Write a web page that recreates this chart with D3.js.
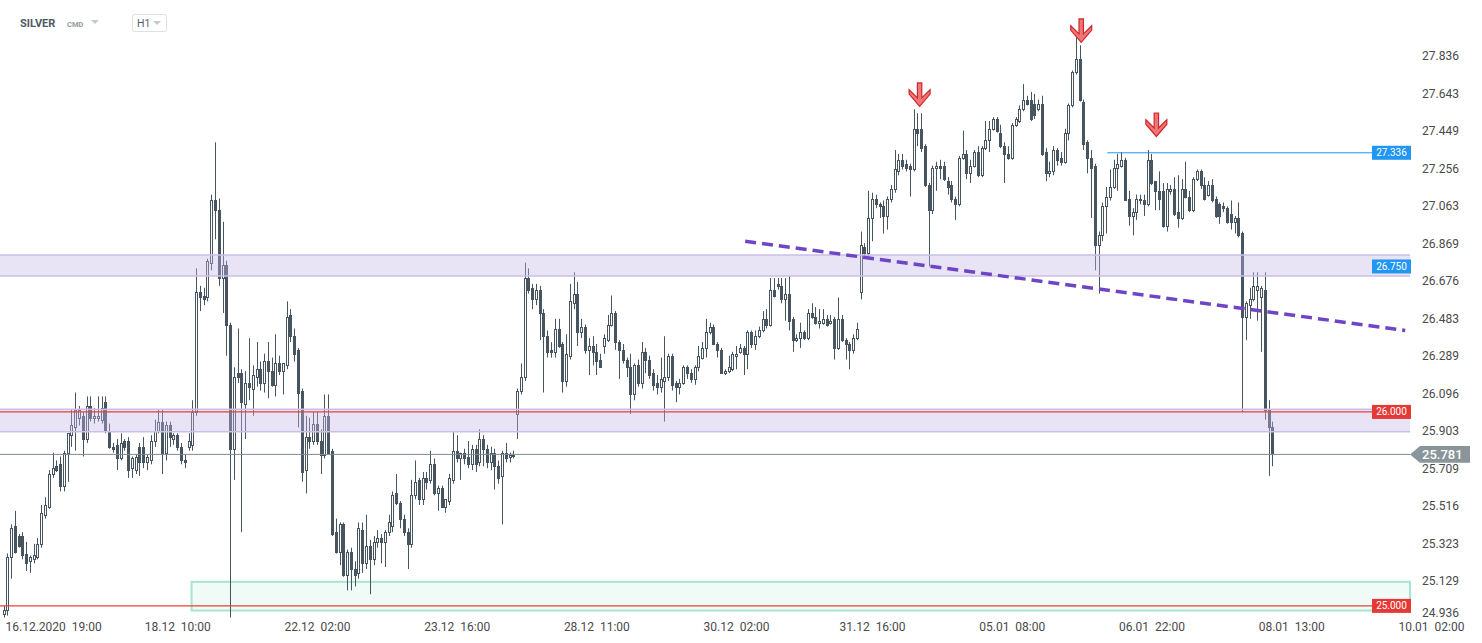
<!DOCTYPE html>
<html><head><meta charset="utf-8">
<script src="https://cdn.jsdelivr.net/npm/d3@7"></script>
<style>
body{margin:0;background:#fff;overflow:hidden}
svg{display:block;font-family:Roboto,'Open Sans',Arial,sans-serif}
</style>
</head><body>
<svg id="chart" width="1482" height="643"></svg>
<script>
// ---------- DATA (SILVER, H1) ----------
const opens = [
24.96,24.98,25.25,25.41,25.36,25.36,25.27,25.23,25.24,25.25,
25.32,25.47,25.51,25.68,25.72,25.73,25.62,25.79,25.88,25.92,
25.97,25.98,25.86,26.03,25.97,25.97,25.96,26.05,25.90,25.82,
25.83,25.76,25.85,25.85,25.71,25.70,25.82,25.82,25.74,25.75,
25.85,25.90,25.95,25.79,25.93,25.86,25.88,25.82,25.75,25.82,
25.83,26.00,26.62,26.60,26.59,26.77,27.09,27.04,26.69,26.76,
26.45,25.81,26.20,26.20,26.04,26.15,26.12,26.18,26.22,26.15,
26.26,26.21,26.14,26.25,26.21,26.24,26.50,26.39,26.32,26.11,
25.70,25.87,25.85,25.94,25.85,25.78,25.98,25.80,25.38,25.28,
25.42,25.16,25.28,25.19,25.17,25.39,25.22,25.31,25.24,25.33,
25.35,25.33,25.38,25.41,25.58,25.53,25.45,25.38,25.32,25.57,
25.65,25.55,25.66,25.65,25.73,25.58,25.61,25.51,25.54,25.65,
25.80,25.76,25.79,25.77,25.73,25.81,25.74,25.86,25.81,25.74,
25.79,25.72,25.67,25.79,25.77,25.78,25.99,26.11,26.18,26.69,
26.64,26.58,26.63,26.51,26.39,26.32,26.31,26.43,26.35,26.16,
26.29,26.56,26.61,26.41,26.44,26.32,26.34,26.31,26.27,26.34,
26.37,26.45,26.51,26.36,26.32,26.27,26.23,26.09,26.24,26.15,
26.31,26.27,26.20,26.15,26.13,26.16,26.18,26.29,26.15,26.13,
26.15,26.23,26.20,26.17,26.23,26.28,26.33,26.41,26.44,26.35,
26.32,26.20,26.21,26.22,26.29,26.31,26.33,26.30,26.41,26.35,
26.39,26.42,26.48,26.45,26.63,26.66,26.65,26.58,26.61,26.48,
26.37,26.38,26.41,26.38,26.51,26.49,26.46,26.46,26.48,26.46,
26.48,26.33,26.48,26.37,26.35,26.32,26.38,26.62,26.85,26.82,
27.00,27.10,27.07,27.06,27.01,27.10,27.15,27.24,27.30,27.28,
27.27,27.25,27.46,27.46,27.37,27.17,27.04,27.26,27.27,27.27,
27.19,27.17,27.10,27.07,27.31,27.33,27.23,27.27,27.34,27.22,
27.36,27.40,27.46,27.51,27.44,27.37,27.33,27.31,27.48,27.50,
27.56,27.61,27.61,27.59,27.56,27.59,27.34,27.23,27.24,27.35,
27.31,27.29,27.44,27.58,27.75,27.82,27.60,27.39,27.31,27.27,
26.86,26.91,27.06,27.11,27.16,27.26,27.27,27.30,27.10,27.01,
27.03,27.10,27.09,27.07,27.30,27.19,27.14,27.14,26.96,27.14,
27.15,27.03,27.00,27.15,27.11,27.04,27.20,27.24,27.17,27.12,
27.17,27.10,27.07,27.06,27.05,27.02,26.98,27.00,26.92,26.49,
26.55,26.58,26.63,26.59,26.63,26.01,25.92];
const highs = [
25.00,25.27,25.42,25.49,25.37,25.38,25.33,25.26,25.32,25.35,
25.52,25.56,25.70,25.79,25.75,25.77,25.80,25.89,26.01,26.10,
26.03,26.00,26.08,26.08,26.02,26.08,26.08,26.08,25.94,25.84,
25.86,25.89,25.86,25.87,25.77,25.78,25.84,25.87,25.78,25.88,
25.96,26.01,26.01,25.95,25.95,25.89,25.89,25.84,25.78,25.89,
26.06,26.74,26.65,26.64,26.79,27.12,27.39,27.10,26.98,26.78,
26.46,26.23,26.43,26.22,26.21,26.38,26.24,26.36,26.26,26.30,
26.36,26.28,26.40,26.29,26.24,26.57,26.53,26.43,26.33,26.12,
25.98,25.97,26.00,26.00,25.91,26.09,26.09,25.81,25.45,25.43,
25.43,25.29,25.30,25.23,25.43,25.43,25.47,25.34,25.36,25.39,
25.37,25.39,25.47,25.59,25.68,25.54,25.47,25.40,25.65,25.75,
25.66,25.69,25.69,25.80,25.76,25.62,25.62,25.55,25.68,25.90,
25.88,25.79,25.81,25.85,25.83,25.83,25.91,25.88,25.83,25.82,
25.81,25.75,25.80,25.84,25.79,25.80,26.12,26.25,26.77,26.74,
26.66,26.66,26.65,26.53,26.42,26.36,26.48,26.48,26.36,26.40,
26.66,26.72,26.67,26.48,26.45,26.38,26.39,26.35,26.30,26.40,
26.50,26.60,26.52,26.37,26.35,26.28,26.30,26.25,26.27,26.36,
26.33,26.29,26.22,26.19,26.28,26.39,26.30,26.30,26.16,26.17,
26.24,26.24,26.22,26.24,26.34,26.36,26.48,26.46,26.45,26.36,
26.33,26.22,26.29,26.31,26.34,26.35,26.34,26.42,26.42,26.42,
26.44,26.52,26.53,26.69,26.69,26.69,26.69,26.69,26.70,26.49,
26.40,26.46,26.42,26.53,26.56,26.54,26.53,26.53,26.50,26.50,
26.49,26.59,26.50,26.38,26.36,26.40,26.46,26.93,26.87,27.14,
27.13,27.12,27.08,27.09,27.11,27.17,27.35,27.33,27.33,27.30,
27.28,27.56,27.54,27.54,27.38,27.18,27.27,27.29,27.30,27.29,
27.21,27.19,27.11,27.32,27.45,27.35,27.30,27.35,27.37,27.37,
27.50,27.50,27.52,27.52,27.48,27.39,27.37,27.49,27.52,27.58,
27.69,27.63,27.65,27.64,27.61,27.63,27.36,27.29,27.37,27.36,
27.34,27.46,27.59,27.76,27.93,27.89,27.61,27.40,27.35,27.28,
26.93,27.08,27.16,27.25,27.30,27.33,27.34,27.31,27.14,27.05,
27.12,27.12,27.12,27.35,27.33,27.19,27.24,27.18,27.18,27.17,
27.21,27.22,27.20,27.29,27.14,27.21,27.25,27.25,27.21,27.19,
27.20,27.11,27.08,27.08,27.06,27.09,27.01,27.08,26.93,26.57,
26.64,26.72,26.72,26.65,26.72,26.06,25.95];
const lows = [
24.94,24.95,25.14,25.27,25.30,25.24,25.18,25.17,25.22,25.24,
25.30,25.45,25.50,25.66,25.69,25.59,25.59,25.64,25.82,25.80,
25.93,25.77,25.84,25.95,25.94,25.95,25.94,25.89,25.81,25.79,
25.70,25.75,25.80,25.66,25.66,25.68,25.67,25.71,25.70,25.73,
25.82,25.89,25.68,25.75,25.82,25.83,25.80,25.73,25.71,25.80,
25.80,25.98,26.52,26.55,26.57,26.73,26.89,26.65,26.51,26.29,
24.94,25.65,26.15,25.38,25.86,26.06,25.98,26.13,26.11,26.10,
26.07,26.13,26.08,26.19,26.09,26.22,26.36,26.26,25.92,25.64,
25.58,25.81,25.83,25.83,25.68,25.76,25.78,25.36,25.27,25.21,
25.15,25.08,25.08,25.10,25.14,25.17,25.19,25.06,25.21,25.30,
25.22,25.20,25.36,25.38,25.52,25.40,25.36,25.19,25.30,25.55,
25.52,25.52,25.60,25.63,25.57,25.49,25.51,25.48,25.52,25.63,
25.74,25.65,25.73,25.71,25.70,25.69,25.72,25.72,25.71,25.70,
25.60,25.63,25.42,25.74,25.74,25.76,25.86,26.09,26.16,26.61,
26.53,26.55,26.37,26.10,26.28,26.28,26.28,26.33,26.10,26.13,
26.27,26.53,26.34,26.38,26.30,26.19,26.24,26.19,26.23,26.30,
26.36,26.44,26.32,26.17,26.25,26.18,25.99,26.06,26.13,26.12,
26.20,26.17,26.11,26.09,26.10,25.95,26.16,26.11,26.05,26.09,
26.14,26.17,26.15,26.14,26.21,26.27,26.28,26.40,26.35,26.28,
26.20,26.19,26.20,26.21,26.22,26.30,26.19,26.22,26.33,26.32,
26.38,26.41,26.43,26.44,26.59,26.63,26.56,26.47,26.42,26.31,
26.36,26.33,26.37,26.37,26.48,26.45,26.43,26.45,26.44,26.45,
26.27,26.32,26.36,26.27,26.22,26.30,26.37,26.58,26.79,26.80,
26.88,27.05,27.00,26.92,26.94,27.08,27.13,27.22,27.25,27.24,
27.11,27.24,27.37,27.34,27.16,26.75,27.02,27.14,27.20,27.19,
27.12,27.08,26.99,27.06,27.30,27.20,27.18,27.26,27.21,27.21,
27.35,27.34,27.45,27.44,27.36,27.18,27.30,27.30,27.47,27.49,
27.55,27.58,27.50,27.51,27.55,27.32,27.19,27.21,27.22,27.27,
27.27,27.28,27.40,27.57,27.74,27.60,27.35,27.23,27.00,26.73,
26.61,26.88,26.92,27.09,27.15,27.14,27.26,27.09,26.96,26.91,
26.99,27.07,27.01,27.06,27.17,27.04,27.04,26.95,26.93,27.12,
27.01,26.95,26.99,27.10,27.03,27.03,27.19,27.15,27.09,27.11,
27.08,27.00,26.97,27.03,26.97,26.94,26.92,26.90,26.00,26.37,
26.48,26.57,26.47,26.31,25.96,25.67,25.72];
const closes = [
24.98,25.25,25.40,25.28,25.31,25.26,25.22,25.25,25.26,25.32,
25.48,25.52,25.68,25.71,25.70,25.62,25.79,25.89,25.93,26.01,
26.01,25.86,26.03,25.97,25.98,25.98,26.02,25.90,25.82,25.81,
25.76,25.84,25.82,25.70,25.76,25.77,25.74,25.74,25.77,25.85,
25.90,25.95,25.79,25.93,25.87,25.88,25.82,25.75,25.74,25.85,
26.00,26.62,26.59,26.58,26.78,27.09,27.04,26.69,26.76,26.45,
25.81,26.18,26.18,26.05,26.15,26.13,26.19,26.22,26.15,26.26,
26.21,26.14,26.25,26.21,26.25,26.49,26.39,26.30,26.10,25.69,
25.87,25.85,25.94,25.85,25.78,25.98,25.79,25.37,25.28,25.42,
25.16,25.28,25.19,25.16,25.40,25.22,25.31,25.24,25.33,25.35,
25.33,25.38,25.43,25.57,25.53,25.45,25.38,25.32,25.57,25.64,
25.55,25.66,25.64,25.73,25.58,25.61,25.51,25.55,25.66,25.80,
25.76,25.79,25.76,25.73,25.81,25.73,25.86,25.81,25.74,25.79,
25.72,25.66,25.79,25.76,25.78,25.78,26.11,26.18,26.69,26.63,
26.58,26.63,26.51,26.39,26.31,26.31,26.43,26.34,26.16,26.30,
26.57,26.61,26.41,26.44,26.32,26.34,26.31,26.26,26.23,26.38,
26.45,26.51,26.36,26.32,26.27,26.23,26.09,26.24,26.15,26.31,
26.27,26.19,26.14,26.13,26.17,26.18,26.29,26.14,26.13,26.15,
26.23,26.20,26.17,26.23,26.29,26.33,26.41,26.44,26.35,26.32,
26.20,26.21,26.23,26.30,26.30,26.33,26.30,26.41,26.35,26.39,
26.42,26.48,26.45,26.63,26.60,26.65,26.58,26.61,26.47,26.37,
26.38,26.41,26.38,26.51,26.49,26.46,26.47,26.48,26.45,26.47,
26.33,26.48,26.37,26.35,26.32,26.38,26.43,26.86,26.82,27.00,
27.10,27.07,27.06,27.01,27.10,27.15,27.25,27.30,27.27,27.26,
27.25,27.46,27.44,27.36,27.17,27.04,27.26,27.27,27.26,27.20,
27.16,27.10,27.07,27.31,27.33,27.23,27.27,27.34,27.22,27.36,
27.40,27.46,27.51,27.45,27.37,27.33,27.31,27.48,27.51,27.56,
27.61,27.59,27.51,27.53,27.59,27.33,27.23,27.24,27.35,27.30,
27.29,27.44,27.58,27.75,27.82,27.61,27.38,27.31,27.26,26.86,
26.91,27.06,27.11,27.16,27.26,27.28,27.30,27.09,27.01,27.03,
27.10,27.09,27.07,27.30,27.18,27.14,27.10,26.96,27.15,27.15,
27.02,27.00,27.15,27.11,27.04,27.20,27.24,27.17,27.10,27.17,
27.09,27.01,27.01,27.05,26.98,26.98,27.00,26.91,26.49,26.56,
26.58,26.65,26.65,26.64,26.01,25.92,25.781];

const yTickValues = [24.936,25.129,25.323,25.516,25.709,25.903,26.096,26.289,26.483,26.676,26.869,27.063,27.256,27.449,27.643,27.836];
const xTickIdx    = [9,46,83,120,157,194,230,267,304,341,378];
const xTickLabels = ["16.12.2020  19:00","18.12  10:00","22.12  02:00","23.12  16:00","28.12  11:00","30.12  02:00","31.12  16:00","05.01  08:00","06.01  22:00","08.01  13:00","10.01  02:00"];

const resistanceBand = [26.701, 26.809];
const supportBand    = [25.898, 26.014];
const demandZone     = [24.976, 25.124];
const demandZoneStartIdx = 49.8;
const redLevels   = [26.000, 25.000];
const redLabels   = ["26.000", "25.000"];
const blueLevels  = [27.336, 26.750];
const blueLabels  = ["27.336", "26.750"];
const blueLineStartIdx = 292.3;
const lastPrice = 25.781;
const trendIdx  = [196.4, 371.2];
const trendVal  = [26.88, 26.42];
const arrowIdx  = [242.6, 285.4, 305.3];
const arrowTip  = [27.575, 27.905, 27.42];

// ---------- DRAW ----------
const svg = d3.select('#chart');
const plotRight = 1410, plotBottom = 618;
const FONT = "Roboto,'Open Sans',Arial,sans-serif";
const x = d3.scaleLinear().domain([-0.93, 372.47]).range([0, plotRight]);
const y = d3.scaleLinear().domain([24.9375, 28.1237]).range([plotBottom, 0]);
const candleColor = '#46555f';
const px = i => Math.round(x(i)) + 0.5;

// green demand zone (under candles)
svg.append('rect')
  .attr('x', x(demandZoneStartIdx)).attr('y', y(demandZone[1]))
  .attr('width', plotRight - x(demandZoneStartIdx)).attr('height', y(demandZone[0]) - y(demandZone[1]))
  .attr('fill', 'rgba(200,240,225,0.28)').attr('stroke', '#a8e4cf').attr('stroke-width', 2);

// candles
const candles = closes.map((c, i) => ({
  i, o: opens[i], c,
  h: Math.max(highs[i], opens[i], c),
  l: Math.min(lows[i], opens[i], c)
}));
const cg = svg.append('g').selectAll('g').data(candles).join('g');
cg.append('line')
  .attr('x1', d => px(d.i)).attr('x2', d => px(d.i))
  .attr('y1', d => y(d.h)).attr('y2', d => y(d.l))
  .attr('stroke', candleColor).attr('stroke-width', 1);
cg.append('rect')
  .attr('x', d => px(d.i) - 1)
  .attr('width', 2)
  .attr('y', d => Math.round(y(Math.max(d.o, d.c))) + 0.5)
  .attr('height', d => Math.max(1, Math.round(y(Math.min(d.o, d.c))) - Math.round(y(Math.max(d.o, d.c)))))
  .attr('fill', d => d.c >= d.o ? '#ffffff' : candleColor)
  .attr('stroke', candleColor).attr('stroke-width', 1);

// purple bands (over candles, semi-transparent)
[resistanceBand, supportBand].forEach(b => {
  svg.append('rect').attr('x', 0).attr('y', y(b[1])).attr('width', plotRight)
    .attr('height', y(b[0]) - y(b[1])).attr('fill', 'rgba(196,182,232,0.38)');
  b.forEach(v => svg.append('line').attr('x1', 0).attr('x2', plotRight)
    .attr('y1', y(v)).attr('y2', y(v)).attr('stroke', '#c9bfe6').attr('stroke-width', 1.5));
});

// current price line
svg.append('line').attr('x1', 0).attr('x2', plotRight)
  .attr('y1', y(lastPrice)).attr('y2', y(lastPrice)).attr('stroke', '#7e8b90').attr('stroke-width', 1);

// red levels
redLevels.forEach(v => svg.append('line').attr('x1', 0).attr('x2', plotRight)
  .attr('y1', y(v)).attr('y2', y(v)).attr('stroke', '#e8403a').attr('stroke-width', 1.2));

// blue level line
svg.append('line').attr('x1', x(blueLineStartIdx)).attr('x2', plotRight)
  .attr('y1', y(blueLevels[0])).attr('y2', y(blueLevels[0])).attr('stroke', '#2196f3').attr('stroke-width', 1);

// dashed trend line
svg.append('line')
  .attr('x1', x(trendIdx[0])).attr('y1', y(trendVal[0]))
  .attr('x2', x(trendIdx[1])).attr('y2', y(trendVal[1]))
  .attr('stroke', '#6d45c5').attr('stroke-width', 3.5).attr('stroke-dasharray', '11,6');

// red down arrows
const arrowPts = [[-2.2,-23.5],[2.2,-23.5],[2.2,-8.5],[10.5,-16.7],[10.5,-12.3],[0,0],[-10.5,-12.3],[-10.5,-16.7],[-2.2,-8.5]];
arrowIdx.forEach((a, k) => {
  const ax = x(a), ay = y(arrowTip[k]);
  svg.append('polygon')
    .attr('points', arrowPts.map(p => [ax + p[0], ay + p[1]].join(',')).join(' '))
    .attr('fill', '#ef7676').attr('stroke', '#d0282a').attr('stroke-width', 1.2)
    .attr('stroke-linejoin', 'miter');
});

// level labels
function levelLabel(v, txt, color) {
  const yc = y(v);
  svg.append('rect').attr('x', 1372).attr('y', yc - 7).attr('width', 39).attr('height', 14).attr('fill', color);
  svg.append('text').attr('x', 1391.5).attr('y', yc).attr('dy', '0.35em').attr('text-anchor', 'middle')
    .attr('font-size', 10).attr('font-family', FONT).attr('fill', '#fff').text(txt);
}
redLevels.forEach((v, k) => levelLabel(v, redLabels[k], '#e53935'));
blueLevels.forEach((v, k) => levelLabel(v, blueLabels[k], '#2196f3'));

// y axis
const ya = svg.append('g').attr('transform', `translate(${plotRight},0)`)
  .call(d3.axisRight(y).tickValues(yTickValues).tickFormat(d3.format('.3f')).tickSize(0).tickPadding(12));
ya.select('.domain').remove();
ya.attr('font-size', 12).attr('font-family', FONT).attr('color', '#4a4a4a');
ya.selectAll('.tick').filter(d => y(d) > 613).attr('transform', 'translate(0,613)');

// x axis
const xa = svg.append('g').attr('transform', `translate(0,${plotBottom})`)
  .call(d3.axisBottom(x).tickValues(xTickIdx).tickFormat((d, i) => xTickLabels[i]).tickSize(0).tickPadding(4));
xa.select('.domain').remove();
xa.attr('font-size', 12).attr('font-family', FONT).attr('color', '#4a4a4a');
xa.selectAll('text').style('white-space', 'pre');
xa.selectAll('.tick').filter((d, i) => i === 0).select('text')
  .attr('text-anchor', 'start').attr('x', 5 - x(xTickIdx[0]));

// current price tag
const yl = y(lastPrice);
svg.append('path')
  .attr('d', `M${plotRight},${yl} L${plotRight + 10},${yl - 8.3} L1470,${yl - 8.3} L1470,${yl + 8.3} L${plotRight + 10},${yl + 8.3} Z`)
  .attr('fill', '#8a9599');
svg.append('text').attr('x', 1422).attr('y', yl).attr('dy', '0.36em')
  .attr('font-size', 13).attr('font-weight', 500).attr('font-family', FONT).attr('fill', '#fff')
  .text(lastPrice.toFixed(3));

// header
svg.append('text').attr('x', 20).attr('y', 27).attr('font-size', 11).attr('font-weight', 700)
  .attr('font-family', FONT).attr('fill', '#4d5a64').text('SILVER');
svg.append('text').attr('x', 67).attr('y', 27).attr('font-size', 7.5).attr('font-weight', 700)
  .attr('font-family', FONT).attr('fill', '#8e9ba4').text('CMD');
svg.append('path').attr('d', 'M91,20 L99,20 L95,24 Z').attr('fill', '#c2c9cd');
svg.append('rect').attr('x', 132.5).attr('y', 14.5).attr('width', 34).attr('height', 17).attr('rx', 2)
  .attr('fill', '#fff').attr('stroke', '#dde1e4');
svg.append('text').attr('x', 137).attr('y', 27).attr('font-size', 10.5)
  .attr('font-family', FONT).attr('fill', '#56636c').text('H1');
svg.append('path').attr('d', 'M153,21 L161,21 L157,25 Z').attr('fill', '#c2c9cd');
</script>
</body></html>
